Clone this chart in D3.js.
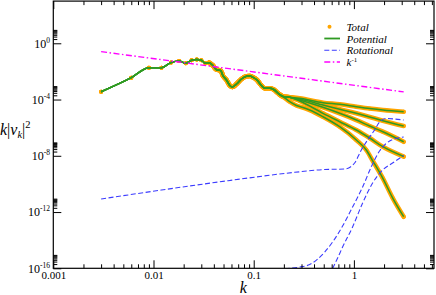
<!DOCTYPE html>
<html>
<head>
<meta charset="utf-8">
<script src="https://cdn.jsdelivr.net/npm/d3@7"></script>
<style>
  html, body { margin: 0; padding: 0; background: #fff; }
  svg { display: block; }
</style>
</head>
<body>
<svg id="chart" width="436" height="295"></svg>
<script>
// ---------- data ----------
const xMajorTicks = [0.001, 0.01, 0.1, 1];
const xTickLabels = ["0.001", "0.01", "0.1", "1"];
const yMajorTicks = [1e0, 1e-4, 1e-8, 1e-12, 1e-16];
const yTickExponents = ["0", "-4", "-8", "-12", "-16"];

// part shared by all potential / total spectra
const kShared = [0.003, 0.006, 0.009, 0.012, 0.015, 0.018, 0.021, 0.024, 0.027, 0.030, 0.033, 0.036, 0.039, 0.042,
  0.0469, 0.0495, 0.0535, 0.0577, 0.0614, 0.0673, 0.0755, 0.0847, 0.0914, 0.0985, 0.108, 0.119, 0.129, 0.1445, 0.1585, 0.175, 0.196];
const potShared = [3.61e-4, 3.57e-3, 0.0184, 0.0184, 0.0431, 0.0551, 0.0378, 0.0618, 0.0705, 0.0618, 0.0378, 0.0417, 0.0272, 0.01415,
  0.01125, 4.72e-3, 2.45e-3, 1.0e-3, 7.8e-4, 1.27e-3, 2.89e-3, 4.5e-3, 4.72e-3, 3.82e-3, 2.45e-3, 1.0e-3, 6.3e-4, 6.3e-4, 5.18e-4, 2.78e-4, 1.64e-4];

// high-k tails of the five potential spectra
const kTail = [0.2286, 0.2877, 0.491, 0.721, 1.057, 1.435, 1.945, 3.14];
const pot1Tail = [1.47e-4, 1.225e-4, 5.96e-5, 4.58e-5, 3.1e-5, 2.31e-5, 1.8e-5, 1.36e-5];
const pot2Tail = [1.47e-4, 1.09e-4, 4.09e-5, 2.02e-5, 1.05e-5, 5.73e-6, 3.13e-6, 1.31e-6];
const pot3Tail = [1.47e-4, 9.27e-5, 2.81e-5, 1.05e-5, 3.5e-6, 1.31e-6, 5.16e-7, 1.0e-7];
const pot4Tail = [1.47e-4, 7.87e-5, 1.05e-5, 2.65e-6, 6.8e-7, 1.84e-7, 4.42e-8, 8.9e-9];
const kTail5 = [0.2286, 0.267, 0.310, 0.362, 0.491, 0.721, 1.057, 1.33, 1.546, 1.945, 2.448, 3.14];
const pot5Tail = [7.02e-5, 3.77e-5, 2.72e-5, 1.80e-5, 6.0e-6, 1.17e-6, 1.33e-7, 2.58e-8, 4.25e-9, 2.5e-10, 9.5e-12, 4.65e-13];

// rotational spectra
const kRot1 = [0.003, 0.012, 0.0555, 0.2565, 0.511, 0.808, 0.906, 1.016, 1.186, 1.37, 1.607, 1.803, 2.104, 2.546, 3.14];
const rot1 = [8.43e-12, 3.68e-11, 1.69e-10, 6.68e-10, 1.06e-9, 1.15e-9, 1.47e-9, 3.06e-9, 2.58e-8, 1.33e-7, 6.8e-7, 2.53e-6, 4.48e-6, 4.13e-6, 3.5e-6];
const kRot2 = [0.2038, 0.2877, 0.362, 0.435, 0.511, 0.613, 0.771, 0.970, 1.222, 1.503, 1.803, 2.07, 2.376, 2.728, 3.14];
const rot2 = [9.6e-17, 1.23e-16, 1.85e-16, 4.56e-16, 1.43e-15, 7.38e-15, 1.01e-13, 2.28e-12, 6.02e-11, 1.88e-9, 2.19e-8, 6.89e-8, 1.33e-7, 1.84e-7, 2.17e-7];
const kRot3 = [0.613, 0.688, 0.771, 0.970, 1.222, 1.538, 1.932, 2.43, 3.14];
const rot3 = [9.6e-17, 5.37e-16, 3.25e-15, 8.6e-14, 4.38e-12, 1.16e-10, 9.75e-10, 3.06e-9, 1.05e-8];

// k^-1 reference line
const kRef = [0.003, 3.14];
const vRef = [0.255, 3.5e-4];

const legendLabels = ["Total", "Potential", "Rotational", "k"];

// ---------- build series ----------
const zip = (ks, vs) => ks.map((k, i) => [k, vs[i]]);
const shared = zip(kShared, potShared);
const potentialSeries = [
  shared.concat(zip(kTail, pot1Tail)),
  shared.concat(zip(kTail, pot2Tail)),
  shared.concat(zip(kTail, pot3Tail)),
  shared.concat(zip(kTail, pot4Tail)),
  shared.concat(zip(kTail5, pot5Tail))
];
const rotationalSeries = [zip(kRot1, rot1), zip(kRot2, rot2), zip(kRot3, rot3)];
const refSeries = zip(kRef, vRef);

// ---------- layout ----------
const FONT = "'Liberation Serif', 'Times New Roman', serif";
const L = 53.3, R = 434, T = 1.1, B = 268.3;
const svg = d3.select("#chart");
const x = d3.scaleLog().domain([0.001, 6.3]).range([L, R]);
const y = d3.scaleLog().domain([1e-16, 1e3]).range([B, T]);

svg.append("defs").append("clipPath").attr("id", "clip")
  .append("rect").attr("x", L).attr("y", T).attr("width", R - L).attr("height", B - T);

const line = d3.line().x(d => x(d[0])).y(d => y(d[1])).curve(d3.curveMonotoneX);
const plot = svg.append("g").attr("clip-path", "url(#clip)");

const ORANGE = "#ffa500", GREEN = "#2f9a22", BLUE = "#3c3cff", MAGENTA = "#ff00ff";

// Total: dense orange symbols (band where symbols merge) + symbols
potentialSeries.forEach(s => {
  plot.append("path").datum(s.filter(d => d[0] >= 0.036))
    .attr("d", line).attr("fill", "none").attr("stroke", ORANGE)
    .attr("stroke-width", 4.6).attr("stroke-linejoin", "round").attr("stroke-linecap", "round");
});
potentialSeries.forEach(s => {
  plot.append("g").selectAll("circle").data(s).join("circle")
    .attr("cx", d => x(d[0])).attr("cy", d => y(d[1])).attr("r", 2).attr("fill", ORANGE);
});
// Potential
potentialSeries.forEach(s => {
  plot.append("path").datum(s).attr("d", line).attr("fill", "none")
    .attr("stroke", GREEN).attr("stroke-width", 1.5);
});
// Rotational
rotationalSeries.forEach(s => {
  plot.append("path").datum(s).attr("d", line).attr("fill", "none")
    .attr("stroke", BLUE).attr("stroke-width", 1.1).attr("stroke-dasharray", "5,2.5");
});
// k^-1
plot.append("path").datum(refSeries).attr("d", d3.line().x(d => x(d[0])).y(d => y(d[1])))
  .attr("fill", "none").attr("stroke", MAGENTA).attr("stroke-width", 1.4)
  .attr("stroke-dasharray", "6,2.5,1.5,2.5");

// ---------- axes ----------
const xMinor = [];
for (let e = -3; e <= 0; e++) for (let m = 2; m <= 9; m++) { const v = m * Math.pow(10, e); if (v <= 6.3) xMinor.push(v); }
const yMinor = [];
yMajorTicks.forEach(v => { for (let m = 2; m <= 9; m++) yMinor.push(m * v); });

function styleAxis(g) {
  g.attr("font-family", FONT);
  g.select(".domain").remove();
  g.selectAll(".tick line").attr("stroke", "#000").attr("stroke-width", 1);
}
// bottom
svg.append("g").attr("transform", `translate(0,${B})`)
  .call(d3.axisBottom(x).tickValues(xMajorTicks).tickSizeInner(-8).tickSizeOuter(0).tickPadding(3)
    .tickFormat((d, i) => xTickLabels[i]))
  .call(styleAxis)
  .call(g => g.selectAll(".tick text").attr("font-size", 11).attr("fill", "#000")
    .attr("font-family", FONT));
svg.append("g").attr("transform", `translate(0,${B})`)
  .call(d3.axisBottom(x).tickValues(xMinor).tickSizeInner(-4).tickSizeOuter(0).tickFormat(""))
  .call(styleAxis);
// top
svg.append("g").attr("transform", `translate(0,${T})`)
  .call(d3.axisTop(x).tickValues(xMajorTicks).tickSizeInner(-8).tickSizeOuter(0).tickFormat(""))
  .call(styleAxis);
svg.append("g").attr("transform", `translate(0,${T})`)
  .call(d3.axisTop(x).tickValues(xMinor).tickSizeInner(-4).tickSizeOuter(0).tickFormat(""))
  .call(styleAxis);
// left
svg.append("g").attr("transform", `translate(${L},0)`)
  .call(d3.axisLeft(y).tickValues(yMajorTicks).tickSizeInner(-8).tickSizeOuter(0).tickPadding(3.3)
    .tickFormat(""))
  .call(styleAxis)
  .call(g => g.selectAll(".tick text").each(function (d, i) {
    const t = d3.select(this).attr("font-size", 12).attr("fill", "#000").attr("font-family", FONT);
    t.append("tspan").text("10");
    t.append("tspan").attr("dy", -5).attr("font-size", 7.5).text(yTickExponents[i]);
  }));
svg.append("g").attr("transform", `translate(${L},0)`)
  .call(d3.axisLeft(y).tickValues(yMinor).tickSizeInner(-4).tickSizeOuter(0).tickFormat(""))
  .call(styleAxis);
// right
svg.append("g").attr("transform", `translate(${R},0)`)
  .call(d3.axisRight(y).tickValues(yMajorTicks).tickSizeInner(-8).tickSizeOuter(0).tickFormat(""))
  .call(styleAxis);
svg.append("g").attr("transform", `translate(${R},0)`)
  .call(d3.axisRight(y).tickValues(yMinor).tickSizeInner(-4).tickSizeOuter(0).tickFormat(""))
  .call(styleAxis);

// frame
svg.append("rect").attr("x", L).attr("y", T).attr("width", R - L).attr("height", B - T)
  .attr("fill", "none").attr("stroke", "#000").attr("stroke-width", 1.2);

// axis titles
svg.append("text").attr("x", 243.3).attr("y", 292.5).attr("text-anchor", "middle")
  .attr("font-family", FONT).attr("font-size", 16).attr("font-style", "italic").text("k");
const yt = svg.append("text").attr("x", 0).attr("y", 135).attr("font-size", 16).attr("font-family", FONT);
yt.append("tspan").attr("font-style", "italic").text("k");
yt.append("tspan").text("|");
yt.append("tspan").attr("font-style", "italic").text("v");
yt.append("tspan").attr("font-style", "italic").attr("font-size", 10.5).attr("dy", 3).text("k");
yt.append("tspan").attr("dy", -3).text("|");
yt.append("tspan").attr("font-size", 10.5).attr("dy", -7).text("2");

// ---------- legend ----------
const lg = svg.append("g").attr("font-family", FONT);
const rows = [26.7, 38.5, 50.2, 62];
const symX0 = 324.3, symX1 = 340, txtX = 346.5;
lg.append("circle").attr("cx", 329.5).attr("cy", rows[0]).attr("r", 2).attr("fill", ORANGE);
lg.append("line").attr("x1", symX0).attr("x2", symX1).attr("y1", rows[1]).attr("y2", rows[1])
  .attr("stroke", GREEN).attr("stroke-width", 1.8);
lg.append("line").attr("x1", symX0).attr("x2", symX1).attr("y1", rows[2]).attr("y2", rows[2])
  .attr("stroke", BLUE).attr("stroke-width", 1.1).attr("stroke-dasharray", "5,2.5");
lg.append("line").attr("x1", symX0).attr("x2", symX1).attr("y1", rows[3]).attr("y2", rows[3])
  .attr("stroke", MAGENTA).attr("stroke-width", 1.4).attr("stroke-dasharray", "6,2.5,1.5,2.5");
legendLabels.forEach((lab, i) => {
  const t = lg.append("text").attr("x", txtX).attr("y", rows[i] + 4).attr("font-size", 11)
    .attr("font-family", FONT);
  t.append("tspan").attr("font-style", "italic").text(lab);
  if (i === 3) t.append("tspan").attr("font-size", 7).attr("dy", -4.5).text("-1");
});
</script>
</body>
</html>
